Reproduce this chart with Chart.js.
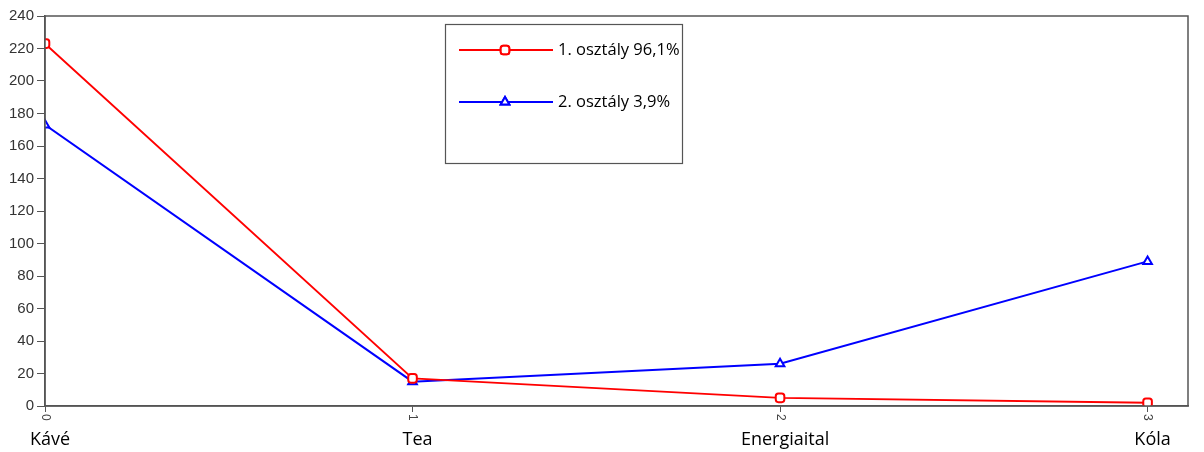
<!DOCTYPE html>
<html><head><meta charset="utf-8">
<script src="https://cdn.jsdelivr.net/npm/chart.js@4"></script>
<style>html,body{margin:0;padding:0;background:#fff;}canvas{display:block;}</style>
</head><body>
<canvas id="c" width="1204" height="452"></canvas>
<script>
const categories = ['Kávé', 'Tea', 'Energiaital', 'Kóla'];
const positions = [0, 1, 2, 3];
const series1Label = '1. osztály 96,1%';
const series1Values = [223, 17, 5, 2];
const series2Label = '2. osztály 3,9%';
const series2Values = [173, 15, 26, 89];
const yTicks = [0, 20, 40, 60, 80, 100, 120, 140, 160, 180, 200, 220, 240];

const toPts = vals => vals.map((v, i) => ({x: positions[i], y: v}));

const boxPlugin = {
  id: 'box',
  afterDraw(chart) {
    const {ctx, chartArea: a} = chart;
    ctx.save();
    ctx.strokeStyle = '#555';
    ctx.lineWidth = 1.5;
    ctx.strokeRect(a.left, a.top, a.right - a.left, a.bottom - a.top);
    // rotated numeric tick labels of the x scale (clockwise, as in reference)
    const xs = chart.scales.x;
    ctx.fillStyle = '#444';
    ctx.font = '12px "Liberation Sans", sans-serif';
    ctx.textAlign = 'left';
    ctx.textBaseline = 'middle';
    xs.ticks.forEach(t => {
      const px = xs.getPixelForValue(t.value);
      ctx.save();
      ctx.translate(px, a.bottom + 8);
      ctx.rotate(Math.PI / 2);
      ctx.fillText(String(t.value), 0, 0);
      ctx.restore();
    });
    // legend box
    const lx = 445, ly = 24, lw = 237, lh = 139;
    ctx.fillStyle = '#fff';
    ctx.fillRect(lx, ly, lw, lh);
    ctx.strokeStyle = '#555';
    ctx.lineWidth = 1.2;
    ctx.strokeRect(lx + 0.5, ly + 0.5, lw, lh);
    chart.data.datasets.forEach((ds, i) => {
      const yy = 50 + i * 52;
      ctx.strokeStyle = ds.borderColor;
      ctx.lineWidth = 2;
      ctx.beginPath(); ctx.moveTo(459, yy); ctx.lineTo(553, yy); ctx.stroke();
      Chart.helpers.drawPoint(ctx, {pointStyle: ds.pointStyle, rotation: 0, radius: 5, borderWidth: 2}, 505, yy);
      ctx.fillStyle = '#fff';
      ctx.fill();
      ctx.stroke();
      ctx.fillStyle = '#000';
      ctx.font = '16.5px "Open Sans", sans-serif';
      ctx.textBaseline = 'middle';
      ctx.textAlign = 'left';
      ctx.fillText(ds.label, 558, yy);
    });
    ctx.restore();
  }
};

new Chart(document.getElementById('c'), {
  type: 'line',
  data: {
    datasets: [
      {label: series1Label, data: toPts(series1Values), borderColor: '#ff0000', backgroundColor: '#ffffff',
       borderWidth: 2, pointStyle: 'rectRounded', pointRadius: 5, pointBorderWidth: 2, tension: 0},
      {label: series2Label, data: toPts(series2Values), borderColor: '#0000ff', backgroundColor: '#ffffff',
       borderWidth: 2, pointStyle: 'triangle', pointRadius: 5, pointBorderWidth: 2, tension: 0}
    ]
  },
  options: {
    responsive: false,
    animation: false,
    devicePixelRatio: 1,
    layout: {padding: {top: 16, right: 16, left: 0, bottom: 0}},
    plugins: {legend: {display: false}, tooltip: {enabled: false}},
    elements: {point: {backgroundColor: '#fff'}},
    scales: {
      x: {
        type: 'linear', position: 'bottom', min: 0, max: 3.11,
        afterBuildTicks: a => { a.ticks = positions.map(v => ({value: v})); },
        afterFit: a => { a.height = 20; },
        grid: {display: true, drawOnChartArea: false, drawTicks: true, tickLength: 6, color: '#555'},
        border: {display: true, color: '#555', width: 1.5},
        ticks: {display: false}
      },
      x2: {
        type: 'linear', position: 'bottom', min: 0, max: 3.11,
        afterBuildTicks: a => { a.ticks = positions.map(v => ({value: v})); },
        afterFit: a => { a.height = 26; },
        grid: {display: false, drawTicks: false},
        border: {display: false},
        ticks: {padding: 3, labelOffset: 5, color: '#000', font: {family: 'Open Sans', size: 18},
                callback: v => categories[v]}
      },
      y: {
        min: 0, max: 240,
        afterBuildTicks: a => { a.ticks = yTicks.map(v => ({value: v})); },
        afterFit: a => { a.width = 45; },
        grid: {display: true, drawOnChartArea: false, drawTicks: true, tickLength: 8, color: '#555'},
        border: {display: true, color: '#555', width: 1.5},
        ticks: {padding: 3, color: '#333', font: {family: 'Liberation Sans', size: 15}}
      }
    }
  },
  plugins: [boxPlugin]
});
</script>
</body></html>
